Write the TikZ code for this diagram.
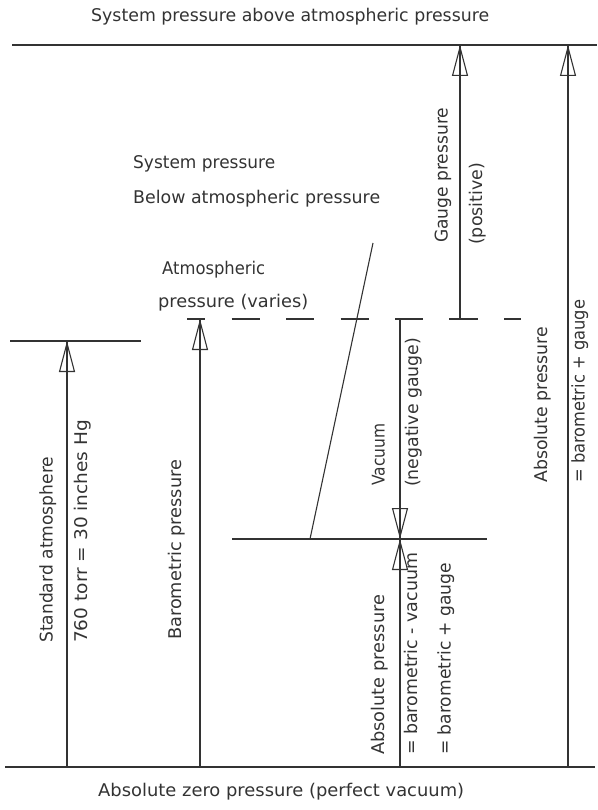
\documentclass[tikz,border=0pt]{standalone}
\usepackage{fontspec}
\setmainfont{DejaVu Sans}
\usepackage{graphicx}
\usetikzlibrary{arrows.meta}
\newlength\fitlen
\newcommand\fitto[2]{\settowidth\fitlen{#2}\pgfmathsetmacro\fitfac{#1/\fitlen}\scalebox{\fitfac}[1]{#2}}
\definecolor{ink}{gray}{0.2}
\tikzset{
  lvl/.style={draw=ink, line width=1.1pt},
  shaft/.style={draw=ink, line width=1.1pt},
  head/.style={draw=ink, line width=1.1pt, -{Triangle[open,length=31pt,width=16pt]}},
  lbl/.style={inner sep=0pt, text=ink, font=\fontsize{17.5}{20}\selectfont},
  vlbl/.style={lbl, rotate=90, anchor=mid west},
  hlbl/.style={lbl, anchor=base west},
}
\begin{document}
\begin{tikzpicture}[x=1pt,y=-1pt]
\useasboundingbox (0,0) rectangle (597,810);
% level lines
\coordinate (topL) at (12,45);   \coordinate (topR) at (597,45);
\coordinate (botL) at (5,767);   \coordinate (botR) at (595,767);
\coordinate (stdL) at (10,341);  \coordinate (stdR) at (141,341);
\coordinate (atmL) at (187,319); \coordinate (atmR) at (521,319);
\coordinate (subL) at (232,539); \coordinate (subR) at (487,539);
\coordinate (slA) at (310,539);  \coordinate (slB) at (373,243);
\draw[lvl] (topL) -- (topR);
\draw[lvl] (botL) -- (botR);
\draw[lvl] (stdL) -- (stdR);
\draw[lvl] (subL) -- (subR);
\draw[lvl, dash pattern=on 28pt off 26.5pt, dash phase=10pt] (atmL) -- (atmR);
\draw[lvl] (slA) -- (slB);
% arrow end points
\coordinate (s0) at (67,767);  \coordinate (s1) at (67,341);
\coordinate (b0) at (200,767); \coordinate (b1) at (200,319);
\coordinate (v0) at (400,319); \coordinate (v1) at (400,539);
\coordinate (a0) at (400,767); \coordinate (a1) at (400,539);
\coordinate (g0) at (460,319); \coordinate (g1) at (460,45);
\coordinate (r0) at (568,767); \coordinate (r1) at (568,45);
\foreach \p/\q in {s0/s1,b0/b1,v0/v1,a0/a1,g0/g1,r0/r1}{
  \draw[shaft] (\p) -- (\q);
  \draw[head] (\p) -- (\q);
}
% short tick segments at arrow tails on the atmospheric line
\draw[lvl] (395,319) -- (423,319);
\draw[lvl] (449,319) -- (478,319);
% horizontal labels
\node[hlbl] (t1) at (91,22) {\fitto{398}{System pressure above atmospheric pressure}};
\node[hlbl] (t2) at (133,169) {\fitto{142}{System pressure}};
\node[hlbl] (t3) at (133,204) {\fitto{247}{Below atmospheric pressure}};
\node[hlbl] (t4) at (162,274) {\fitto{103}{Atmospheric}};
\node[hlbl] (t5) at (158,307) {\fitto{150}{pressure (varies)}};
\node[hlbl] (t6) at (98,796) {\fitto{366}{Absolute zero pressure (perfect vacuum)}};
% vertical labels
\node[vlbl] (l1) at (50,643) {\fitto{186}{Standard atmosphere}};
\node[vlbl] (l2) at (85,643) {\fitto{223}{760 torr = 30 inches Hg}};
\node[vlbl] (l3) at (179,640) {\fitto{180}{Barometric pressure}};
\node[vlbl] (l4) at (382,486) {\fitto{62}{Vacuum}};
\node[vlbl] (l5) at (416,487) {\fitto{149}{(negative gauge)}};
\node[vlbl] (l6) at (382,755) {\fitto{160}{Absolute pressure}};
\node[vlbl] (l7) at (415,755) {\fitto{202}{= barometric - vacuum}};
\node[vlbl] (l8) at (448,755) {\fitto{192}{= barometric + gauge}};
\node[vlbl] (l9) at (445,243) {\fitto{135}{Gauge pressure}};
\node[vlbl] (l10) at (480,245) {\fitto{82}{(positive)}};
\node[vlbl] (l11) at (545,483) {\fitto{156}{Absolute pressure}};
\node[vlbl] (l12) at (582,483) {\fitto{183}{= barometric + gauge}};
\end{tikzpicture}
\end{document}
